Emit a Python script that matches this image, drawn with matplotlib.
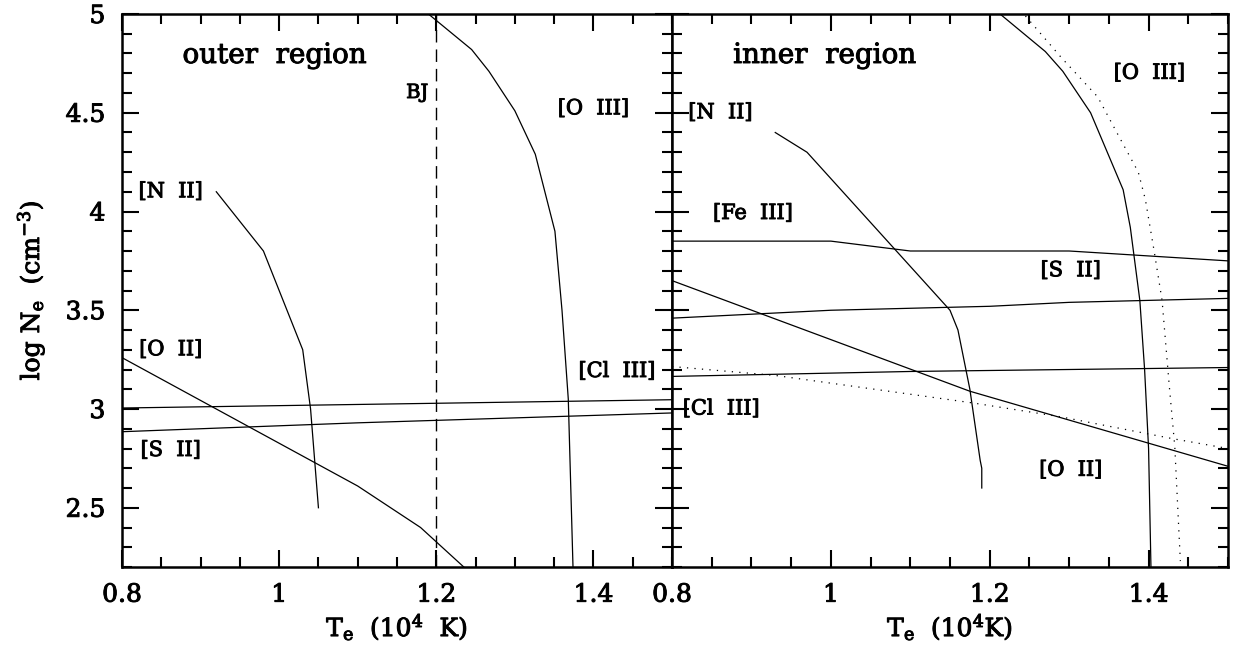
import matplotlib
matplotlib.use("Agg")
import matplotlib.pyplot as plt
import matplotlib.patheffects as pe
from matplotlib.ticker import MultipleLocator, FuncFormatter

plt.rcParams["font.family"] = "DejaVu Serif"
plt.rcParams["mathtext.fontset"] = "dejavuserif"

# %% outer region (sol panel)
dis_nii_x = [0.92, 0.98, 1.03, 1.04, 1.05]
dis_nii_y = [4.10, 3.80, 3.30, 3.00, 2.50]
dis_oiii_x = [1.19, 1.245, 1.267, 1.30, 1.326, 1.351, 1.36, 1.368, 1.374]
dis_oiii_y = [5.00, 4.82, 4.71, 4.51, 4.29, 3.90, 3.50, 3.05, 2.20]
dis_oii_x = [0.80, 1.10, 1.18, 1.235]
dis_oii_y = [3.26, 2.61, 2.40, 2.20]
dis_cliii_x = [0.80, 1.50]
dis_cliii_y = [3.005, 3.047]
dis_sii_x = [0.80, 1.10, 1.50]
dis_sii_y = [2.885, 2.93, 2.98]
bj_x = 1.2

# %% inner region (sag panel)
ic_nii_x = [0.93, 0.97, 1.15, 1.16, 1.175, 1.188, 1.19, 1.19]
ic_nii_y = [4.40, 4.30, 3.50, 3.40, 3.10, 2.74, 2.70, 2.60]
ic_oiii_x = [1.213, 1.27, 1.292, 1.327, 1.368, 1.377, 1.389, 1.395, 1.40, 1.403]
ic_oiii_y = [5.00, 4.81, 4.71, 4.50, 4.11, 3.92, 3.55, 3.20, 2.80, 2.20]
ic_oiii2_x = [1.245, 1.29, 1.336, 1.36, 1.387, 1.396, 1.407, 1.417, 1.426, 1.433, 1.44]
ic_oiii2_y = [4.99, 4.78, 4.58, 4.40, 4.20, 4.06, 3.80, 3.55, 3.12, 2.81, 2.23]
ic_feiii_x = [0.80, 1.00, 1.10, 1.30, 1.50]
ic_feiii_y = [3.85, 3.85, 3.80, 3.80, 3.75]
ic_sii_x = [0.80, 1.00, 1.20, 1.30, 1.50]
ic_sii_y = [3.46, 3.50, 3.52, 3.54, 3.56]
ic_oii_x = [0.80, 1.175, 1.50]
ic_oii_y = [3.65, 3.09, 2.71]
ic_oii2_x = [0.80, 0.93, 1.18, 1.29, 1.43, 1.50]
ic_oii2_y = [3.215, 3.17, 3.03, 2.96, 2.85, 2.80]
ic_cliii_x = [0.80, 1.10, 1.50]
ic_cliii_y = [3.165, 3.19, 3.21]

# etiketler: (metin, x, y)
dis_etiket = [("[N  II]", 0.862, 4.10), ("[O  III]", 1.40, 4.52),
              ("[O  II]", 0.862, 3.30), ("[S  II]", 0.862, 2.79),
              ("[Cl  III]", 1.43, 3.19)]
ic_etiket = [("[O  III]", 1.401, 4.70), ("[N  II]", 0.861, 4.50),
             ("[Fe  III]", 0.902, 3.99), ("[S  II]", 1.302, 3.70),
             ("[Cl  III]", 0.862, 3.00), ("[O  II]", 1.302, 2.69)]

# yazilari biraz kalinlastir (hershey gorunumu)
kalin = [pe.withStroke(linewidth=0.7, foreground="black")]

fig = plt.figure(figsize=(12.33, 6.52), dpi=100)
W, H = 1233, 652
ax1 = fig.add_axes([122 / W, 1 - 567 / H, 550 / W, 553 / H])
ax2 = fig.add_axes([672 / W, 1 - 567 / H, 556 / W, 553 / H])

lw = 0.9
ax1.plot(dis_nii_x, dis_nii_y, color="black", lw=lw)
ax1.plot(dis_oiii_x, dis_oiii_y, color="black", lw=lw)
ax1.plot(dis_oii_x, dis_oii_y, color="black", lw=lw)
ax1.plot(dis_cliii_x, dis_cliii_y, color="black", lw=lw)
ax1.plot(dis_sii_x, dis_sii_y, color="black", lw=lw)
ax1.axvline(bj_x, color="black", lw=1.0, ls=(0, (9, 5)))
ax1.text(1.19, 4.60, "BJ", fontsize=14, ha="right", va="center", path_effects=kalin)
ax1.text(0.877, 4.79, "outer  region", fontsize=20, ha="left", va="center",
         path_effects=kalin)
for t, x, y in dis_etiket:
    ax1.text(x, y, t, fontsize=15, ha="center", va="center", path_effects=kalin)

ax2.plot(ic_nii_x, ic_nii_y, color="black", lw=lw)
ax2.plot(ic_oiii_x, ic_oiii_y, color="black", lw=lw)
ax2.plot(ic_oiii2_x, ic_oiii2_y, color="black", lw=lw, ls=(0, (1, 5)))
ax2.plot(ic_feiii_x, ic_feiii_y, color="black", lw=lw)
ax2.plot(ic_sii_x, ic_sii_y, color="black", lw=lw)
ax2.plot(ic_oii_x, ic_oii_y, color="black", lw=lw)
ax2.plot(ic_oii2_x, ic_oii2_y, color="black", lw=lw, ls=(0, (1, 5)))
ax2.plot(ic_cliii_x, ic_cliii_y, color="black", lw=lw)
ax2.text(0.877, 4.79, "inner  region", fontsize=20, ha="left", va="center",
         path_effects=kalin)
for t, x, y in ic_etiket:
    ax2.text(x, y, t, fontsize=15, ha="center", va="center", path_effects=kalin)

fmt = FuncFormatter(lambda v, p: ("%g" % round(v, 2)))
for ax in (ax1, ax2):
    ax.set_xlim(0.8, 1.5)
    ax.set_ylim(2.2, 5.0)
    ax.xaxis.set_major_locator(MultipleLocator(0.2))
    ax.xaxis.set_minor_locator(MultipleLocator(0.05))
    ax.yaxis.set_major_locator(MultipleLocator(0.5))
    ax.yaxis.set_minor_locator(MultipleLocator(0.1))
    ax.xaxis.set_major_formatter(fmt)
    ax.yaxis.set_major_formatter(fmt)
    ax.tick_params(which="both", direction="in", top=True, right=True,
                   width=1.5, labelsize=18)
    ax.tick_params(which="major", length=12, pad=12)
    ax.tick_params(which="minor", length=7)
    for s in ax.spines.values():
        s.set_linewidth(1.8)
    for lab in ax.get_xticklabels() + ax.get_yticklabels():
        lab.set_path_effects(kalin)

ax2.tick_params(labelleft=False)
ax1.set_ylabel(r"log N$_{\rm e}$  (cm$^{-3}$)", fontsize=18, labelpad=14,
               path_effects=kalin)
ax1.set_xlabel(r"T$_{\rm e}$  (10$^4$  K)", fontsize=18, labelpad=4,
               path_effects=kalin)
ax2.set_xlabel(r"T$_{\rm e}$  (10$^4$K)", fontsize=18, labelpad=4,
               path_effects=kalin)

fig.savefig("out.png", dpi=100)
